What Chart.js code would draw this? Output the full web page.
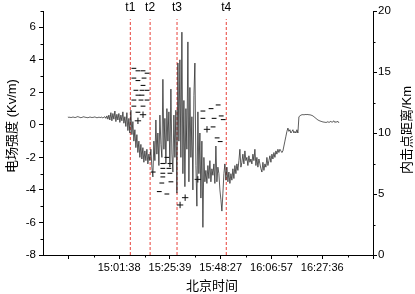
<!DOCTYPE html>
<html>
<head>
<meta charset="utf-8">
<script src="https://cdn.jsdelivr.net/npm/chart.js@4/dist/chart.umd.min.js"></script>
<style>
body { margin: 0; background: #fff; }
canvas { display: block; }
</style>
</head>
<body>
<canvas id="mainChart" width="415" height="294"></canvas>
<script>
// x axis is the sample index of the record, labelled with clock times
const xTickValues = [50, 150, 250, 350, 450, 550, 650];
const xTickLabels = ['', '15:01:38', '15:25:39', '15:48:27', '16:06:57', '16:27:36', ''];
const xMinorTicks = [100, 200, 300, 400, 500, 600];

const yTickValues = [-8, -6, -4, -2, 0, 2, 4, 6];
const yMinorTicks = [-7, -5, -3, -1, 1, 3, 5, 7];
const y2TickValues = [0, 5, 10, 15, 20];
const y2MinorTicks = [2.5, 7.5, 12.5, 17.5];

// electric field (kV/m), one sample every fieldStep index units
const fieldStart = 49;
const fieldStep = 1.97;
const fieldValues = [
  0.48,0.46,0.47,0.45,0.46,0.48,0.47,0.45,0.46,0.49,0.51,0.48,0.46,0.44,0.46,0.48,0.50,0.47,0.46,0.45,0.44,0.46,0.48,0.47,0.45,0.46,0.47,0.49,0.46,0.44,0.45,0.47,0.46,
  0.45,0.48,0.42,0.47,0.50,0.40,0.55,0.35,0.60,0.30,0.75,0.25,0.70,0.35,0.85,0.20,0.65,0.30,
  0.70,0.15,0.60,0.25,0.80,0.10,0.50,-0.10,0.75,-0.35,0.40,-0.50,
  0.9,-0.6,0.2,-1.0,-0.3,-1.4,-0.6,-1.7,-1.0,-2.0,-1.2,-2.1,-1.4,-2.3,-1.6,-2.2,-1.5,-2.4,-1.8,-2.2,
  -1.5,-2.6,-3.2,-1.0,-2.2,0.3,-1.8,-0.5,-2.5,0.6,-1.2,-2.0,2.8,-1.5,0.4,-2.4,1.0,-1.0,0.8,-2.6,2.2,-1.8,-2.9,0.6,-2.0,0.9,
  -4.2,3.8,-1.0,4.0,-2.0,5.7,-3.0,1.5,-3.8,1.0,-1.5,5.1,-3.5,2.3,-2.0,0.5,-4.0,1.8,3.8,-2.5,-5.0,0.8,-3.0,-0.5,-4.5,-1.0,-6.3,-2.0,-3.5,
  -2.8,-3.6,-2.5,-3.3,-2.2,-3.5,-2.7,-3.1,-2.4,-3.6,-1.3,-3.5,-2.6,-3.0,-4.0,-4.6,-5.3,-4.2,-3.0,-2.4,-3.4,
  -2.6,-3.5,-2.9,-3.6,-3.0,-3.4,-2.7,-3.3,-2.5,-3.0,-2.4,-2.8,-2.2,-1.5,-2.6,-2.3,-1.8,-2.4,-1.6,-2.2,-2.0,-2.5,-1.9,-2.3,-2.1,-2.4,-1.8,-2.2,-1.5,-2.5,-2.0,-2.6,-2.1,-2.4,
  -2.7,-2.9,-2.3,-2.8,-2.4,-2.6,-2.0,-2.5,-2.2,-1.9,-2.3,-1.8,-2.1,-1.7,-2.0,-1.6,-1.8,-1.5,-1.7,-1.5,-1.6,-1.7,-1.6,
  -1.3,-1.0,-0.7,-0.4,-0.2,-0.4,-0.3,-0.5,-0.4,-0.3,-0.5,-0.4,-0.5,-0.3,-0.5,
  0.5,0.55,0.6,0.62,0.63,0.62,0.63,0.64,0.63,0.64,0.62,0.62,0.6,0.58,0.55,0.5,0.45,0.4,0.35,0.3,0.27,0.24,0.22,0.2,0.18,0.17,0.16,0.15,0.16,0.2,0.15,0.18,0.22,0.16,0.19,0.25,0.14,0.2,0.17,0.22,0.12
];

// marked moments
const tLabels = ['t1', 't2', 't3', 't4'];
const tTimes = [172, 211, 264, 361];
const tTop = 6.5;

// intracloud flash distance (km): negative and positive
const negX = [179,187,197,205,179,199,187,197,183,195,205,187,195,179,193,205,179,197,187,
  244,236,250,236,248,217,236,250,236,252,234,229,244,
  315,331,345,315,337,351,355,335,343,349];
const negDist = [15.3,15.1,15.1,14.9,14.5,14.5,14.3,13.9,13.5,13.5,13.5,13.1,13.1,12.7,12.7,12.7,12.2,12.2,11.7,
  8.0,7.5,7.5,7.1,7.1,6.8,6.7,6.7,6.4,6.0,5.9,5.2,5.0,
  11.8,12.0,12.3,11.2,11.2,11.4,11.1,10.5,9.6,9.3];
const posX = [197, 187, 280, 270, 305, 323];
const posDist = [11.5, 11.0, 4.7, 4.1, 6.2, 10.3];

const fieldPoints = fieldValues.map((v, i) => ({ x: fieldStart + i * fieldStep, y: v }));
const negPoints = negX.map((x, i) => ({ x: x, y: negDist[i] }));
const posPoints = posX.map((x, i) => ({ x: x, y: posDist[i] }));

const font = "'Liberation Sans', Arial, 'Noto Sans CJK SC', sans-serif";

const tLineSets = tTimes.map(t => ({
  type: 'line',
  data: [{ x: t, y: -8 }, { x: t, y: tTop }],
  borderColor: '#e8423a',
  borderWidth: 1,
  borderDash: [3, 2],
  pointRadius: 0,
  yAxisID: 'y'
}));

const extras = {
  id: 'extras',
  afterDraw(chart) {
    const ctx = chart.ctx;
    const xs = chart.scales.x, ys = chart.scales.y, y2 = chart.scales.y2;
    ctx.save();
    ctx.strokeStyle = '#000';
    ctx.lineWidth = 1;
    // minor ticks
    ctx.beginPath();
    xMinorTicks.forEach(v => {
      const p = Math.round(xs.getPixelForValue(v)) + 0.5;
      ctx.moveTo(p, xs.top); ctx.lineTo(p, xs.top + 2.5);
    });
    yMinorTicks.forEach(v => {
      const p = Math.round(ys.getPixelForValue(v)) + 0.5;
      ctx.moveTo(ys.right, p); ctx.lineTo(ys.right - 2.5, p);
    });
    y2MinorTicks.forEach(v => {
      const p = Math.round(y2.getPixelForValue(v)) + 0.5;
      ctx.moveTo(y2.left, p); ctx.lineTo(y2.left + 2.5, p);
    });
    ctx.stroke();

    ctx.fillStyle = '#000';
    ctx.textAlign = 'center';
    ctx.textBaseline = 'middle';
    // t labels
    ctx.font = '12px ' + font;
    tTimes.forEach((t, i) => {
      ctx.fillText(tLabels[i], xs.getPixelForValue(t), 8);
    });
    // axis titles
    ctx.font = '13px ' + font;
    ctx.fillText('北京时间', 212, 286);
    ctx.save();
    ctx.translate(12, 126);
    ctx.rotate(-Math.PI / 2);
    ctx.fillText('电场强度 (Kv/m)', 0, 0);
    ctx.restore();
    ctx.save();
    ctx.translate(407, 130);
    ctx.rotate(-Math.PI / 2);
    ctx.fillText('内击点距离/Km', 0, 0);
    ctx.restore();
    ctx.restore();
  }
};

const axisGrid = { display: true, drawOnChartArea: false, drawTicks: true, tickLength: 4, color: '#000', lineWidth: 1 };
const axisBorder = { display: true, color: '#000', width: 1 };

new Chart('mainChart', {
  data: {
    datasets: [
      {
        type: 'scatter',
        data: negPoints,
        yAxisID: 'y2',
        pointStyle: 'line',
        pointRadius: 2.4,
        borderColor: '#111',
        borderWidth: 1.1,
        showLine: false
      },
      {
        type: 'scatter',
        data: posPoints,
        yAxisID: 'y2',
        pointStyle: 'cross',
        pointRadius: 3.2,
        borderColor: '#111',
        borderWidth: 1,
        showLine: false
      },
      {
        type: 'line',
        data: fieldPoints,
        yAxisID: 'y',
        borderColor: 'rgba(30,30,30,0.8)',
        borderWidth: 0.9,
        pointRadius: 0,
        tension: 0
      },
      ...tLineSets
    ]
  },
  options: {
    responsive: false,
    animation: false,
    devicePixelRatio: 1,
    layout: { padding: { top: 11, left: 0, right: 0, bottom: 0 } },
    plugins: { legend: { display: false }, tooltip: { enabled: false } },
    scales: {
      x: {
        type: 'linear',
        min: 0, max: 650,
        grid: axisGrid,
        border: axisBorder,
        afterBuildTicks: s => { s.ticks = xTickValues.map(v => ({ value: v })); },
        afterFit: s => { s.height = 39; },
        ticks: {
          autoSkip: false, maxRotation: 0, padding: 2, color: '#000',
          font: { size: 11, family: font },
          callback: v => xTickLabels[xTickValues.indexOf(v)]
        }
      },
      y: {
        position: 'left',
        min: -8, max: 7,
        grid: axisGrid,
        border: axisBorder,
        afterBuildTicks: s => { s.ticks = yTickValues.map(v => ({ value: v })); },
        afterFit: s => { s.width = 43; },
        ticks: { padding: 3, color: '#000', font: { size: 11.5, family: font } }
      },
      y2: {
        position: 'right',
        min: 0, max: 20,
        grid: axisGrid,
        border: axisBorder,
        afterBuildTicks: s => { s.ticks = y2TickValues.map(v => ({ value: v })); },
        afterFit: s => { s.width = 42; },
        ticks: { padding: 1, color: '#000', font: { size: 11.5, family: font } }
      }
    }
  },
  plugins: [extras]
});
</script>
</body>
</html>
